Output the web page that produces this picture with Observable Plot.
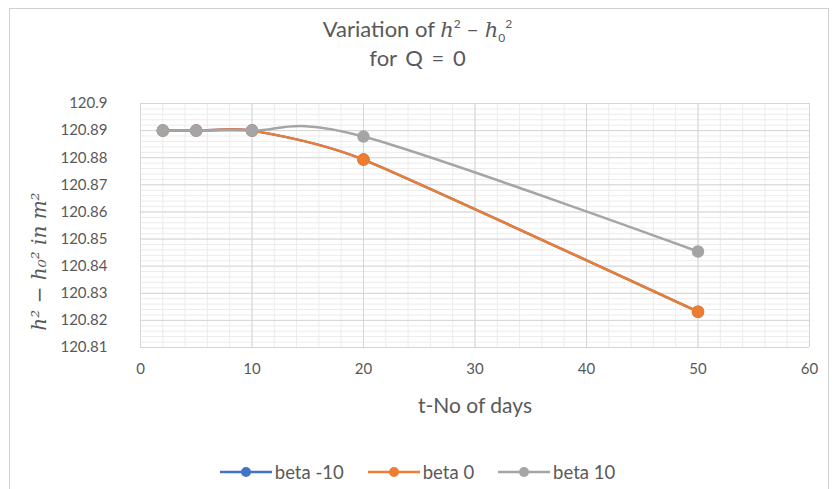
<!DOCTYPE html>
<html>
<head>
<meta charset="utf-8">
<script src="https://cdn.jsdelivr.net/npm/d3@7"></script>
<script src="https://cdn.jsdelivr.net/npm/@observablehq/plot@0.6"></script>
<style>
  body { margin: 0; background: #fff; font-family: Lato, "Open Sans", sans-serif; }
  #wrap { position: relative; width: 835px; height: 489px; overflow: hidden; background: #fff; }
  #frame { position: absolute; left: 9px; top: 8px; width: 820px; height: 520px; border: 1px solid #d0d0d0; box-sizing: border-box; }
  .tl { position: absolute; left: 0; width: 835px; text-align: center; color: #595959; font-size: 22px; line-height: 28px; white-space: nowrap; }
  .tl i { font-family: "DejaVu Serif", serif; font-size: 21px; }
  .tl .s { position: relative; font-size: 12px; line-height: 0; }
  #chart { position: absolute; left: 0; top: 80px; }
  #legend { position: absolute; left: 0; width: 835px; top: 460px; display: flex; justify-content: center; gap: 24px; font-size: 18.5px; color: #595959; align-items: center; line-height: 24px; }
  #legend .it { display: flex; align-items: center; gap: 3px; }
</style>
</head>
<body>
<div id="wrap">
  <div id="frame"></div>
  <div class="tl" style="top:15px">Variation of <i>h</i><span class="s" style="top:-9px">2</span> – <i>h</i><span class="s" style="top:5px">0</span><span class="s" style="top:-9px">2</span></div>
  <div class="tl" style="top:44px;word-spacing:3px">for Q = 0</div>
  <div id="chart"></div>
  <div id="legend"></div>
</div>
<script>
const days = [2, 5, 10, 20, 50];
const seriesNames = ["beta -10", "beta 0", "beta 10"];
const betaMinus10 = [120.89, 120.89, 120.89, 120.8793, 120.8232];
const beta0 = [120.89, 120.89, 120.89, 120.8793, 120.8232];
const beta10 = [120.89, 120.89, 120.89, 120.8878, 120.8454];
const colors = ["#4472C4", "#ED7D31", "#A5A5A5"];
const tensions = [0.4, 0.4, 0];
const yTicks = [120.81, 120.82, 120.83, 120.84, 120.85, 120.86, 120.87, 120.88, 120.89, 120.9];
const xTicks = [0, 10, 20, 30, 40, 50, 60];

const allSeries = [betaMinus10, beta0, beta10];
const data = allSeries.flatMap((vals, i) => vals.map((v, j) => ({series: seriesNames[i], t: days[j], v})));

const yMinor = d3.range(0, 46).map(i => 120.81 + i * 0.002);
const xMinor = d3.range(0, 31).map(i => i * 2);

const marks = [
  Plot.ruleY(yMinor, {stroke: "#ececec", strokeWidth: 1}),
  Plot.ruleX(xMinor, {stroke: "#ececec", strokeWidth: 1}),
  Plot.ruleY(yTicks, {stroke: "#d6d6d6", strokeWidth: 1}),
  Plot.ruleX(xTicks, {stroke: "#d6d6d6", strokeWidth: 1}),
  Plot.axisY({ticks: yTicks, tickSize: 0, tickPadding: 21, dx: -12, tickFormat: d => String(+d.toFixed(2)), label: null, fontSize: 15, color: "#595959"}),
  Plot.axisX({ticks: xTicks, tickSize: 0, tickPadding: 14, dy: 2, label: null, fontSize: 15, color: "#595959"}),
  Plot.text(["h² − h₀² in m²"], {frameAnchor: "left", textAnchor: "middle", dx: -101, dy: 36, rotate: -90, fontSize: 20, fontStyle: "italic", fill: "#595959", fontFamily: "'DejaVu Serif', serif"}),
  Plot.text(["t-No of days"], {frameAnchor: "bottom", dy: 65, fontSize: 21, fill: "#595959"})
];
seriesNames.forEach((name, i) => {
  const d = data.filter(r => r.series === name);
  marks.push(Plot.line(d, {x: "t", y: "v", stroke: colors[i], strokeWidth: 2.5, curve: "cardinal", tension: tensions[i]}));
  marks.push(Plot.dot(d, {x: "t", y: "v", fill: colors[i], r: 5.5, stroke: colors[i]}));
});

const chart = Plot.plot({
  width: 835,
  height: 340,
  marginTop: 23,
  marginBottom: 73,
  marginLeft: 140,
  marginRight: 26,
  style: {fontFamily: "Lato, 'Open Sans', sans-serif", background: "transparent"},
  x: {domain: [0, 60]},
  y: {domain: [120.81, 120.9]},
  marks
});
document.getElementById("chart").append(chart);

const legend = document.getElementById("legend");
seriesNames.forEach((name, i) => {
  const it = document.createElement("div");
  it.className = "it";
  it.innerHTML = `<svg width="52" height="12"><line x1="0" y1="6" x2="52" y2="6" stroke="${colors[i]}" stroke-width="2.5"/><circle cx="26" cy="6" r="5" fill="${colors[i]}"/></svg><span>${name}</span>`;
  legend.append(it);
});
</script>
</body>
</html>
